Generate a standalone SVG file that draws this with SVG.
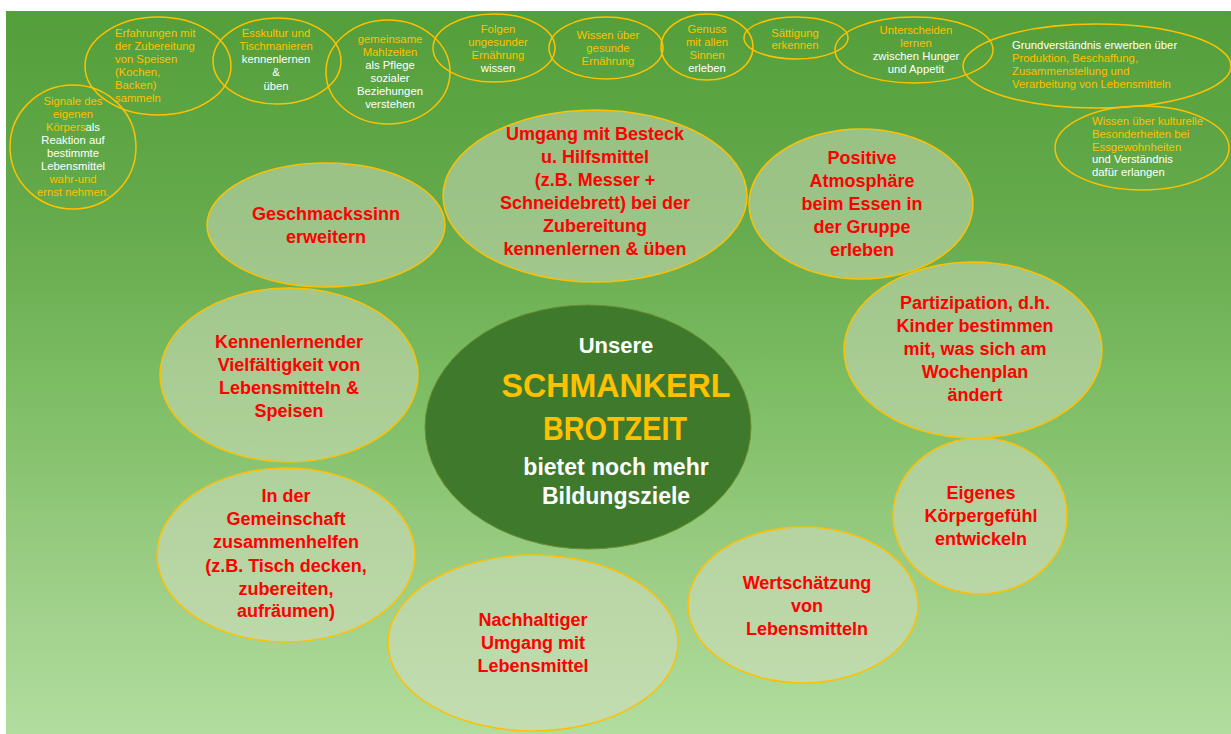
<svg xmlns="http://www.w3.org/2000/svg" width="1231" height="734" viewBox="0 0 1231 734">
<defs>
<linearGradient id="bg" x1="0" y1="0" x2="0" y2="1">
<stop offset="0" stop-color="#539f3a"/>
<stop offset="0.3" stop-color="#66ab4d"/>
<stop offset="0.55" stop-color="#80bf67"/>
<stop offset="0.8" stop-color="#9ecf88"/>
<stop offset="1" stop-color="#b1dd9e"/>
</linearGradient>
<style>
.sm{fill:none;stroke:#ffc000;stroke-width:1.5}
.md{fill:#d5ddc3;fill-opacity:0.5;stroke:#ffc000;stroke-width:1.5}
.st{font-family:"Liberation Sans",Arial,sans-serif;font-size:11.3px;fill:#ffc000}
.c{text-anchor:middle}
.w{fill:#ffffff}
.g{fill:#ffc000}
.mt{font-family:"Liberation Sans",Arial,sans-serif;font-size:18px;font-weight:bold;fill:#ff0000;text-anchor:middle}
.ct{font-family:"Liberation Sans",Arial,sans-serif;font-weight:bold;text-anchor:middle}
</style>
</defs>
<rect x="0" y="0" width="1231" height="734" fill="#ffffff"/>
<rect x="6" y="11" width="1225" height="723" fill="url(#bg)"/>

<g id="connectors"/>

<!-- small top ellipses -->
<g id="n-erfahrungen">
<ellipse class="sm" cx="158" cy="66" rx="73" ry="49"/>
<text class="st"><tspan x="115" y="37">Erfahrungen mit</tspan><tspan x="115" y="50">der Zubereitung</tspan><tspan x="115" y="63">von Speisen</tspan><tspan x="115" y="76">(Kochen,</tspan><tspan x="115" y="89">Backen)</tspan><tspan x="115" y="102">sammeln</tspan></text>
</g>
<g id="n-signale">
<ellipse class="sm" cx="73" cy="147" rx="63" ry="62"/>
<text class="st c"><tspan x="73" y="105">Signale des</tspan><tspan x="73" y="118">eigenen</tspan><tspan x="73" y="131">Körpers<tspan class="w">als</tspan></tspan><tspan class="w" x="73" y="144">Reaktion auf</tspan><tspan class="w" x="73" y="157">bestimmte</tspan><tspan class="w" x="73" y="170">Lebensmittel</tspan><tspan x="73" y="183">wahr-und</tspan><tspan x="73" y="196">ernst nehmen.</tspan></text>
</g>
<g id="n-esskultur">
<ellipse class="sm" cx="277" cy="61" rx="64" ry="43"/>
<text class="st c"><tspan x="276" y="37">Esskultur und</tspan><tspan x="276" y="50">Tischmanieren</tspan><tspan class="w" x="276" y="63">kennenlernen</tspan><tspan class="w" x="276" y="76">&amp;</tspan><tspan class="w" x="276" y="90">üben</tspan></text>
</g>
<g id="n-mahlzeiten">
<ellipse class="sm" cx="388" cy="72" rx="62" ry="52"/>
<text class="st c"><tspan x="390" y="43">gemeinsame</tspan><tspan x="390" y="56">Mahlzeiten</tspan><tspan class="w" x="390" y="69">als Pflege</tspan><tspan class="w" x="390" y="82">sozialer</tspan><tspan class="w" x="390" y="95">Beziehungen</tspan><tspan class="w" x="390" y="108">verstehen</tspan></text>
</g>
<g id="n-folgen">
<ellipse class="sm" cx="494" cy="48" rx="61" ry="34"/>
<text class="st c"><tspan x="498" y="33">Folgen</tspan><tspan x="498" y="46">ungesunder</tspan><tspan x="498" y="59">Ernährung</tspan><tspan class="w" x="498" y="72">wissen</tspan></text>
</g>
<g id="n-wissen-gesund">
<ellipse class="sm" cx="606" cy="48" rx="57" ry="31"/>
<text class="st c"><tspan x="608" y="39">Wissen über</tspan><tspan x="608" y="52">gesunde</tspan><tspan x="608" y="65">Ernährung</tspan></text>
</g>
<g id="n-genuss">
<ellipse class="sm" cx="707" cy="47" rx="46" ry="33"/>
<text class="st c"><tspan x="707" y="33">Genuss</tspan><tspan x="707" y="46">mit allen</tspan><tspan x="707" y="59">Sinnen</tspan><tspan class="w" x="707" y="72">erleben</tspan></text>
</g>
<g id="n-saettigung">
<ellipse class="sm" cx="796" cy="38" rx="52" ry="21"/>
<text class="st c"><tspan x="795" y="37">Sättigung</tspan><tspan x="795" y="49">erkennen</tspan></text>
</g>
<g id="n-hunger">
<ellipse class="sm" cx="914" cy="50" rx="79" ry="33"/>
<text class="st c"><tspan x="916" y="34">Unterscheiden</tspan><tspan x="916" y="47">lernen</tspan><tspan class="w" x="916" y="60">zwischen Hunger</tspan><tspan class="w" x="916" y="73">und Appetit</tspan></text>
</g>
<g id="n-grundverstaendnis">
<ellipse class="sm" cx="1097" cy="66" rx="134" ry="42"/>
<text class="st"><tspan class="w" x="1012" y="49">Grundverständnis erwerben über</tspan><tspan x="1012" y="62">Produktion, Beschaffung,</tspan><tspan x="1012" y="75">Zusammenstellung und</tspan><tspan x="1012" y="88">Verarbeitung von Lebensmitteln</tspan></text>
</g>
<g id="n-kulturell">
<ellipse class="sm" cx="1142" cy="148" rx="87" ry="42"/>
<text class="st"><tspan x="1092" y="125">Wissen über kulturelle</tspan><tspan x="1092" y="138">Besonderheiten bei</tspan><tspan x="1092" y="151">Essgewohnheiten</tspan><tspan class="w" x="1092" y="163">und Verständnis</tspan><tspan class="w" x="1092" y="176">dafür erlangen</tspan></text>
</g>

<!-- medium ellipses -->
<g id="n-geschmack">
<ellipse class="md" cx="326" cy="225" rx="119" ry="62"/>
<text class="mt"><tspan x="326" y="220">Geschmackssinn</tspan><tspan x="326" y="243">erweitern</tspan></text>
</g>
<g id="n-besteck">
<ellipse class="md" cx="595" cy="196" rx="152" ry="86"/>
<text class="mt"><tspan x="595" y="140">Umgang mit Besteck</tspan><tspan x="595" y="163">u. Hilfsmittel</tspan><tspan x="595" y="186">(z.B. Messer +</tspan><tspan x="595" y="209">Schneidebrett) bei der</tspan><tspan x="595" y="232">Zubereitung</tspan><tspan x="595" y="255">kennenlernen &amp; üben</tspan></text>
</g>
<g id="n-atmosphaere">
<ellipse class="md" cx="861" cy="204" rx="112" ry="75"/>
<text class="mt"><tspan x="862" y="164">Positive</tspan><tspan x="862" y="187">Atmosphäre</tspan><tspan x="862" y="210">beim Essen in</tspan><tspan x="862" y="233">der Gruppe</tspan><tspan x="862" y="256">erleben</tspan></text>
</g>
<g id="n-partizipation">
<ellipse class="md" cx="973" cy="350" rx="129" ry="88"/>
<text class="mt"><tspan x="975" y="309">Partizipation, d.h.</tspan><tspan x="975" y="332">Kinder bestimmen</tspan><tspan x="975" y="355">mit, was sich am</tspan><tspan x="975" y="378">Wochenplan</tspan><tspan x="975" y="401">ändert</tspan></text>
</g>
<g id="n-vielfalt">
<ellipse class="md" cx="289" cy="375" rx="129" ry="87"/>
<text class="mt"><tspan x="289" y="348">Kennenlernender</tspan><tspan x="289" y="371">Vielfältigkeit von</tspan><tspan x="289" y="394">Lebensmitteln &amp;</tspan><tspan x="289" y="417">Speisen</tspan></text>
</g>
<g id="n-gemeinschaft">
<ellipse class="md" cx="286" cy="555" rx="129" ry="87"/>
<text class="mt"><tspan x="286" y="502">In der</tspan><tspan x="286" y="525">Gemeinschaft</tspan><tspan x="286" y="548">zusammenhelfen</tspan><tspan x="286" y="572">(z.B. Tisch decken,</tspan><tspan x="286" y="595">zubereiten,</tspan><tspan x="286" y="617">aufräumen)</tspan></text>
</g>
<g id="n-nachhaltig">
<ellipse class="md" cx="533" cy="643" rx="145" ry="88"/>
<text class="mt"><tspan x="533" y="626">Nachhaltiger</tspan><tspan x="533" y="649">Umgang mit</tspan><tspan x="533" y="672">Lebensmittel</tspan></text>
</g>
<g id="n-wertschaetzung">
<ellipse class="md" cx="803" cy="605" rx="115" ry="78"/>
<text class="mt"><tspan x="807" y="589">Wertschätzung</tspan><tspan x="807" y="612">von</tspan><tspan x="807" y="635">Lebensmitteln</tspan></text>
</g>
<g id="n-koerpergefuehl">
<ellipse class="md" cx="980" cy="516" rx="87" ry="78"/>
<text class="mt"><tspan x="981" y="499">Eigenes</tspan><tspan x="981" y="522">Körpergefühl</tspan><tspan x="981" y="545">entwickeln</tspan></text>
</g>

<!-- center -->
<g id="n-center">
<ellipse cx="588" cy="427" rx="163" ry="122" fill="#3f7a2c" stroke="#6b8e2f" stroke-width="1"/>
<text class="ct" fill="#ffffff" font-size="22" x="616" y="353">Unsere</text>
<text class="ct" fill="#ffc000" font-size="33" x="616" y="397" textLength="229" lengthAdjust="spacingAndGlyphs">SCHMANKERL</text>
<text class="ct" fill="#ffc000" font-size="33" x="615" y="440" textLength="144" lengthAdjust="spacingAndGlyphs">BROTZEIT</text>
<text class="ct" fill="#ffffff" font-size="23" x="616" y="475">bietet noch mehr</text>
<text class="ct" fill="#ffffff" font-size="23" x="616" y="504">Bildungsziele</text>
</g>
</svg>
